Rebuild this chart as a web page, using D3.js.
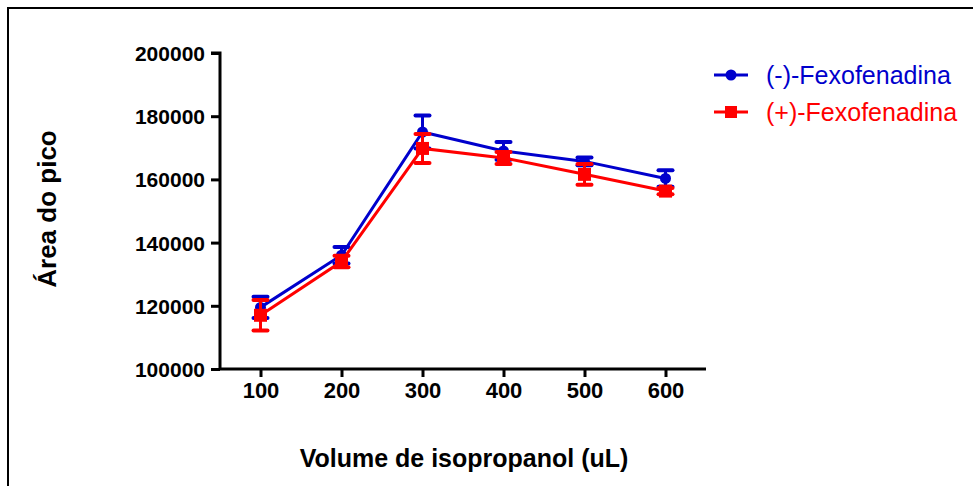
<!DOCTYPE html>
<html>
<head>
<meta charset="utf-8">
<script src="https://cdn.jsdelivr.net/npm/d3@7"></script>
<style>
  html, body { margin: 0; padding: 0; background: #fff; }
  svg { display: block; font-family: Arial, "Liberation Sans", sans-serif; }
</style>
</head>
<body>
<svg id="chart" width="973" height="486"></svg>
<script>
// Volume de isopropanol (uL)
const volumes = [100, 200, 300, 400, 500, 600];
// Área do pico — means and error (±)
const minusMean = [119500, 136000, 175000, 169000, 165700, 160300];
const minusErr  = [3400, 2600, 5200, 2800, 1200, 2600];
const plusMean  = [117000, 134000, 169800, 166800, 161600, 156300];
const plusErr   = [4800, 1800, 4600, 1900, 3300, 1000];
const yTicks = [100000, 120000, 140000, 160000, 180000, 200000];
const seriesNames = ["(-)-Fexofenadina", "(+)-Fexofenadina"];
const seriesColors = ["#0000cc", "#ff0000"];

const svg = d3.select("#chart");

// outer frame
svg.append("rect")
  .attr("x", 8).attr("y", 8).attr("width", 980).attr("height", 500)
  .attr("fill", "none").attr("stroke", "#000").attr("stroke-width", 2);

const x = d3.scaleLinear().domain([50, 650]).range([220, 706]);
const y = d3.scaleLinear().domain([100000, 200000]).range([369, 53]);

// axes
const yAxis = d3.axisLeft(y).tickValues(yTicks).tickSize(9).tickFormat(d3.format("d"));
const xAxis = d3.axisBottom(x).tickValues(volumes).tickSize(8).tickFormat(d3.format("d"));

const gy = svg.append("g").attr("transform", "translate(220,0)").call(yAxis);
const gx = svg.append("g").attr("transform", "translate(0,369)").call(xAxis);

[gy, gx].forEach(g => {
  g.select(".domain").attr("stroke", "#000").attr("stroke-width", 3);
  g.selectAll(".tick line").attr("stroke", "#000").attr("stroke-width", 3);
  g.selectAll(".tick text")
    .attr("fill", "#000")
    .style("font-weight", "bold")
    .style("font-family", "Arial, 'Liberation Sans', sans-serif");
});
gy.select(".domain").attr("d", `M-9,${y(200000)}H0V${y(100000)}`);
gx.select(".domain").attr("d", `M220,0H706`);
gy.selectAll(".tick text").attr("x", -15).attr("dy", "0.36em").style("font-size", "21px");
gx.selectAll(".tick text").attr("y", 13).attr("dy", "0.71em").style("font-size", "22px");

// axis titles
svg.append("text")
  .attr("x", 464).attr("y", 467)
  .attr("text-anchor", "middle")
  .style("font-size", "25px").style("font-weight", "bold")
  .text("Volume de isopropanol (uL)");

svg.append("text")
  .attr("transform", "translate(56,209) rotate(-90)")
  .attr("text-anchor", "middle")
  .style("font-size", "26px").style("font-weight", "bold")
  .text("Área do pico");

const series = [
  { name: seriesNames[0], color: seriesColors[0], mean: minusMean, err: minusErr, shape: "circle" },
  { name: seriesNames[1], color: seriesColors[1], mean: plusMean, err: plusErr, shape: "square" }
];

const line = d3.line().x(d => x(d.v)).y(d => y(d.m));

series.forEach(s => {
  const pts = volumes.map((v, i) => ({ v, m: s.mean[i], e: s.err[i] }));
  const g = svg.append("g");

  // error bars
  pts.forEach(p => {
    g.append("line")
      .attr("x1", x(p.v)).attr("x2", x(p.v))
      .attr("y1", y(p.m - p.e)).attr("y2", y(p.m + p.e))
      .attr("stroke", s.color).attr("stroke-width", 3);
    [p.m - p.e, p.m + p.e].forEach(val => {
      g.append("line")
        .attr("x1", x(p.v) - 7).attr("x2", x(p.v) + 7)
        .attr("y1", y(val)).attr("y2", y(val))
        .attr("stroke", s.color).attr("stroke-width", 4)
        .attr("stroke-linecap", "round");
    });
  });

  g.append("path").datum(pts)
    .attr("d", line)
    .attr("fill", "none")
    .attr("stroke", s.color).attr("stroke-width", 3);

  // markers
  pts.forEach(p => {
    if (s.shape === "circle") {
      g.append("circle").attr("cx", x(p.v)).attr("cy", y(p.m)).attr("r", 5.5).attr("fill", s.color);
    } else {
      g.append("rect").attr("x", x(p.v) - 6.5).attr("y", y(p.m) - 6.5)
        .attr("width", 13).attr("height", 13).attr("fill", s.color);
    }
  });
});

// legend
series.forEach((s, i) => {
  const ly = 75 + i * 37;
  const g = svg.append("g");
  g.append("line").attr("x1", 714).attr("x2", 748).attr("y1", ly).attr("y2", ly)
    .attr("stroke", s.color).attr("stroke-width", 3);
  if (s.shape === "circle") {
    g.append("circle").attr("cx", 731).attr("cy", ly).attr("r", 5.5).attr("fill", s.color);
  } else {
    g.append("rect").attr("x", 725).attr("y", ly - 6).attr("width", 12).attr("height", 12).attr("fill", s.color);
  }
  g.append("text").attr("x", 766).attr("y", ly).attr("dy", "0.36em")
    .attr("fill", s.color)
    .style("font-size", "25px")
    .text(s.name);
});
</script>
</body>
</html>
